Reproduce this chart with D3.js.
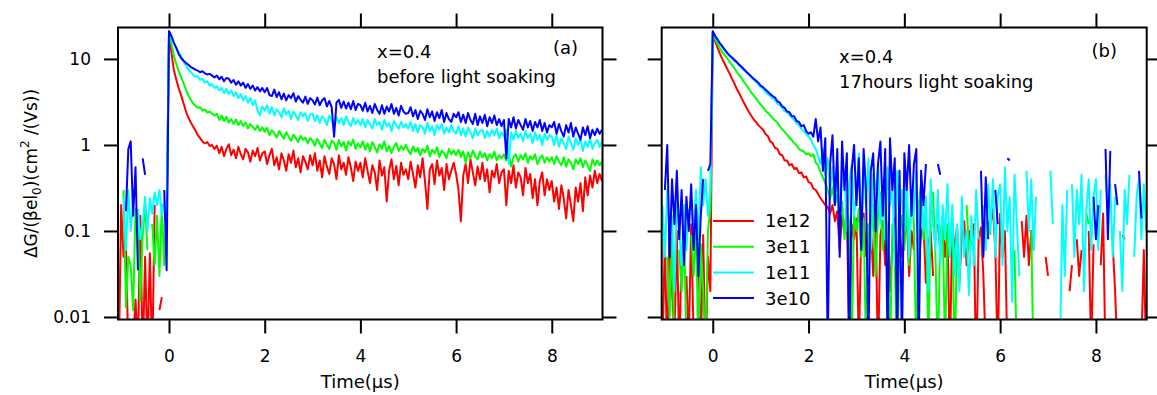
<!DOCTYPE html>
<html><head><meta charset="utf-8">
<script src="https://cdn.jsdelivr.net/npm/d3@7"></script>
<style>
body{margin:0;background:#fff}
svg{display:block}
text{font-family:"DejaVu Sans",sans-serif;fill:#000}
</style>
</head><body>
<svg id="chart" width="1157" height="395"></svg>
<script>
// ---------------- DATA ----------------
const time = [-1.05,-1,-0.95,-0.9,-0.85,-0.8,-0.75,-0.7,-0.65,-0.6,-0.55,-0.5,-0.45,-0.4,-0.35,-0.3,-0.25,-0.2,-0.15,-0.1,-0.05,
0,0.05,0.1,0.15,0.2,0.25,0.3,0.35,0.4,0.45,0.5,0.55,0.6,0.65,0.7,0.75,0.8,0.85,0.9,0.95,
1,1.05,1.1,1.15,1.2,1.25,1.3,1.35,1.4,1.45,1.5,1.55,1.6,1.65,1.7,1.75,1.8,1.85,1.9,1.95,
2,2.05,2.1,2.15,2.2,2.25,2.3,2.35,2.4,2.45,2.5,2.55,2.6,2.65,2.7,2.75,2.8,2.85,2.9,2.95,
3,3.05,3.1,3.15,3.2,3.25,3.3,3.35,3.4,3.45,3.5,3.55,3.6,3.65,3.7,3.75,3.8,3.85,3.9,3.95,
4,4.05,4.1,4.15,4.2,4.25,4.3,4.35,4.4,4.45,4.5,4.55,4.6,4.65,4.7,4.75,4.8,4.85,4.9,4.95,
5,5.05,5.1,5.15,5.2,5.25,5.3,5.35,5.4,5.45,5.5,5.55,5.6,5.65,5.7,5.75,5.8,5.85,5.9,5.95,
6,6.05,6.1,6.15,6.2,6.25,6.3,6.35,6.4,6.45,6.5,6.55,6.6,6.65,6.7,6.75,6.8,6.85,6.9,6.95,
7,7.05,7.1,7.15,7.2,7.25,7.3,7.35,7.4,7.45,7.5,7.55,7.6,7.65,7.7,7.75,7.8,7.85,7.9,7.95,
8,8.05,8.1,8.15,8.2,8.25,8.3,8.35,8.4,8.45,8.5,8.55,8.6,8.65,8.7,8.75,8.8,8.85,8.9,8.95,
9,9.05];

const seriesLabels = ["1e12","3e11","1e11","3e10"];
const xTickValues = [0,2,4,6,8];
const yTickValues = [0.01,0.1,1,10];
const yTickLabels = ["0.01","0.1","1","10"];

// (a) before light soaking
const a_1e12 = [0.003,0.2,0.05,0.07,0.004,0.008,0.005,0.016,0.004,0.15,0.003,0.05,0.004,0.055,0.003,0.2,null,0.012,0.017,null,0.1,
21,12,7.5,5.8,4.6,3.8,3.1,2.5,2.1,1.85,1.65,1.48,1.3,1.2,1.1,1.04,1.08,0.97,1.0,0.9,
0.98,0.8,0.95,0.74,0.9,1.02,0.76,0.88,0.7,0.95,0.78,0.68,0.9,0.82,0.64,0.86,0.74,0.92,0.66,0.8,
0.84,0.6,0.76,0.9,0.58,0.72,0.52,0.8,0.66,0.5,0.78,0.62,0.86,0.55,0.7,0.48,0.74,0.64,0.52,0.76,
0.58,0.8,0.5,0.66,0.42,0.74,0.56,0.46,0.7,0.6,0.4,0.76,0.52,0.62,0.45,0.72,0.55,0.38,0.64,0.5,
0.62,0.42,0.7,0.5,0.36,0.58,0.48,0.3,0.66,0.44,0.55,0.22,0.5,0.68,0.4,0.57,0.34,0.62,0.45,0.52,
0.4,0.64,0.46,0.32,0.58,0.42,0.7,0.38,0.18,0.52,0.6,0.35,0.66,0.44,0.54,0.3,0.6,0.4,0.5,0.62,
0.46,0.3,0.13,0.44,0.6,0.36,0.68,0.48,0.34,0.56,0.4,0.62,0.38,0.52,0.28,0.5,0.42,0.6,0.36,0.48,
0.52,0.2,0.5,0.36,0.58,0.32,0.48,0.42,0.26,0.54,0.36,0.46,0.24,0.4,0.2,0.38,0.48,0.26,0.4,0.3,
0.38,0.22,0.32,0.18,0.34,0.24,0.14,0.3,0.2,0.13,0.32,0.22,0.36,0.17,0.42,0.26,0.44,0.32,0.5,0.36,
0.46,0.38];
const a_3e11 = [null,null,0.3,0.013,0.05,0.04,0.012,0.18,0.11,0.015,0.09,0.2,0.06,null,0.12,0.04,0.15,0.03,0.2,0.04,0.18,
20,15,11,8.8,7.3,6.2,5.3,4.5,3.8,3.4,3.05,2.85,2.7,2.75,2.5,2.6,2.38,2.45,2.3,2.2,
2.3,1.95,2.2,1.9,2.12,1.82,2.0,1.75,1.98,1.7,1.9,1.66,1.82,1.55,1.75,1.62,1.5,1.68,1.45,1.6,
1.42,1.58,1.3,1.48,1.38,1.22,1.45,1.3,1.18,1.4,1.25,1.12,1.32,1.2,1.08,1.28,1.15,1.22,1.04,1.2,
1.12,0.98,1.18,1.04,0.92,1.15,1.0,0.9,1.12,1.06,0.88,1.14,0.96,1.08,0.86,1.1,0.98,1.16,0.9,1.04,
0.94,1.1,0.88,1.04,0.84,1.08,0.95,0.82,1.02,0.9,1.1,0.84,0.98,0.8,0.96,1.05,0.85,0.97,0.88,1.0,
0.86,0.78,0.96,0.84,0.92,0.76,0.9,0.82,0.98,0.74,0.88,0.8,0.94,0.72,0.86,0.8,0.7,0.9,0.78,0.86,
0.76,0.88,0.72,0.84,0.62,0.82,0.7,0.86,0.74,0.68,0.84,0.72,0.8,0.66,0.78,0.7,0.84,0.66,0.76,0.7,
0.78,0.66,0.8,0.56,0.72,0.78,0.64,0.76,0.68,0.8,0.62,0.74,0.68,0.78,0.6,0.7,0.76,0.62,0.72,0.64,
0.72,0.6,0.74,0.64,0.58,0.72,0.56,0.68,0.62,0.52,0.68,0.6,0.7,0.55,0.66,0.58,0.5,0.68,0.58,0.66,
0.58,0.64];
const a_1e11 = [null,null,0.25,0.06,0.3,0.1,0.22,null,0.18,0.08,0.12,0.25,0.1,0.24,0.16,0.28,0.2,0.3,0.15,0.22,0.12,
21,18,15.5,13.5,12,10.8,9.5,8.4,7.6,7.1,6.6,6.2,6.3,5.7,5.9,5.3,5.5,4.9,5.1,4.6,
4.8,4.3,4.6,4.0,4.5,3.9,4.3,3.7,4.1,3.5,3.9,3.3,3.7,3.1,3.5,2.9,3.3,2.5,2.2,2.8,
2.5,2.9,2.3,2.75,2.2,2.6,2.4,2.1,2.65,2.25,2.5,2.0,2.45,2.2,1.95,2.4,2.15,2.35,1.9,2.25,
2.3,1.9,2.2,1.8,2.15,2.0,1.7,2.2,1.95,1.55,2.1,1.8,2.05,1.7,2.15,1.85,1.65,2.05,1.75,1.95,
1.7,2.0,1.6,1.95,1.75,1.55,2.0,1.7,1.85,1.5,1.95,1.65,1.8,1.45,1.9,1.7,1.55,1.85,1.6,1.75,
1.55,1.85,1.45,1.75,1.4,1.7,1.6,1.35,1.8,1.45,1.65,1.3,1.7,1.5,1.75,1.35,1.6,1.4,1.7,1.45,
1.35,1.65,1.3,1.55,1.25,1.6,1.4,1.2,1.55,1.3,1.45,1.5,1.2,1.45,1.25,1.5,1.3,1.55,1.2,1.4,
1.25,1.5,0.6,1.4,1.15,1.45,1.2,1.35,1.1,1.45,1.2,1.35,1.05,1.4,1.15,1.3,1.0,1.35,1.15,1.3,
1.25,1.0,1.3,0.95,1.2,1.05,0.9,1.25,1.05,0.88,1.2,1.0,1.15,0.85,1.1,0.95,1.2,0.9,1.05,1.15,
0.95,1.1];
const a_3e10 = [null,null,null,0.17,0.9,1.1,0.15,0.55,0.035,null,0.7,0.45,null,null,null,null,null,null,null,0.3,0.035,
21,18.5,15.5,13.5,11.5,10.3,9.6,9.0,8.6,8.1,7.8,7.5,7.3,7.0,7.2,6.8,6.6,6.7,6.4,6.1,
6.4,5.8,6.2,5.5,6.0,5.9,5.3,5.7,5.0,5.5,4.9,5.3,4.6,5.1,4.5,4.9,4.3,4.7,4.2,4.6,
4.1,4.6,3.8,3.7,4.4,3.6,4.1,3.4,3.95,3.3,3.8,3.5,4.0,3.2,3.7,3.35,3.1,3.65,3.0,3.5,
3.3,2.95,3.55,2.9,3.3,3.5,2.8,3.25,2.75,1.25,3.1,3.35,2.7,3.2,2.65,3.1,2.6,3.25,2.55,3.0,
2.9,2.5,3.1,2.45,2.85,2.35,3.0,2.55,2.3,2.9,2.3,2.8,2.45,3.0,2.3,2.7,2.2,2.85,2.45,2.3,
2.35,2.75,2.15,2.55,2.0,2.5,2.3,1.95,2.6,2.1,2.45,1.9,2.4,2.05,2.55,1.85,2.35,2.0,1.85,2.3,
2.1,2.4,1.85,2.25,1.8,2.35,1.95,1.75,2.3,1.7,2.15,1.8,2.25,1.65,2.1,1.8,2.2,1.7,2.0,1.65,
1.95,0.7,2.0,1.6,2.1,1.55,1.95,1.7,1.5,2.0,1.6,1.9,1.45,1.85,1.6,1.95,1.45,1.8,1.4,1.7,
1.6,1.85,1.35,1.75,1.45,1.25,1.7,1.4,1.8,1.25,1.6,1.35,1.15,1.6,1.3,1.65,1.2,1.5,1.3,1.55,
1.35,1.5];

// (b) 17 hours light soaking
const b_1e12 = [0.004,0.08,0.003,0.15,0.02,0.006,0.1,0.004,0.05,null,0.03,0.005,0.12,0.006,null,0.06,0.004,0.09,0.003,0.05,0.02,
20,16,13.5,11.5,10,8.8,7.7,6.8,5.9,5.2,4.5,4.0,3.5,3.1,2.75,2.45,2.2,2.0,1.85,1.7,
1.6,1.5,1.34,1.27,1.1,1.05,0.92,0.9,0.78,0.76,0.66,0.66,0.58,0.6,0.53,0.54,0.47,0.48,0.42,0.43,
0.37,0.36,0.31,0.3,0.27,0.24,0.22,0.2,0.19,0.16,0.2,0.13,0.17,0.06,0.15,0.1,0.18,0.004,0.12,0.08,
0.14,0.004,0.1,0.16,0.05,null,0.12,0.03,0.15,0.003,0.09,0.13,0.04,0.11,0.02,0.07,0.14,0.03,0.1,0.05,
0.08,0.15,0.03,0.1,0.06,null,0.04,0.09,0.12,0.025,0.07,0.1,0.03,null,0.12,0.06,0.14,0.05,0.1,0.003,
0.12,0.06,0.11,0.025,0.09,0.13,0.04,0.1,0.07,0.12,0.002,0.08,0.11,0.03,0.004,null,0.12,0.18,0.06,0.003,
0.16,0.05,0.1,0.004,null,null,null,null,null,0.13,0.05,0.15,0.04,0.1,0.06,null,null,null,null,0.05,
0.03,null,null,null,null,null,null,null,null,0.02,0.04,null,0.08,0.03,0.06,null,null,0.1,0.004,0.07,
null,null,0.04,0.16,0.003,0.004,null,0.07,0.02,0.004,null,0.09,0.08,null,null,null,null,null,null,0.005,
0.06,0.003];
const b_3e11 = [null,null,0.05,0.01,0.08,0.004,null,0.06,0.02,0.1,0.005,null,0.09,0.03,0.12,0.004,0.07,0.02,0.004,0.1,0.18,
20,17,15,13.3,12,11,10.2,9.3,8.5,7.8,7.1,6.5,6.0,5.4,5.0,4.5,4.1,3.8,3.5,3.2,
2.95,2.75,2.5,2.35,2.2,2.05,1.92,1.82,1.65,1.52,1.42,1.32,1.22,1.14,1.04,0.99,0.9,0.86,0.84,0.78,
0.8,0.74,0.78,0.62,0.58,0.48,0.42,0.36,0.3,0.24,0.32,0.2,0.26,0.15,0.22,0.08,0.2,0.12,0.004,0.16,
0.1,0.18,0.05,0.14,0.004,0.12,0.08,0.2,0.03,0.15,0.28,0.06,0.2,0.1,0.003,0.12,0.05,0.002,0.09,0.15,
0.06,0.2,0.04,0.3,0.12,0.003,0.2,0.36,0.08,0.25,0.004,0.15,0.28,0.05,0.003,0.1,0.13,0.004,0.12,0.05,
0.15,0.002,0.1,0.03,null,null,0.2,0.06,null,null,null,null,null,null,null,0.13,0.09,null,null,null,
null,null,null,null,null,null,0.06,0.003,null,null,null,null,null,0.1,0.002,null,null,null,null,null,
null,null,null,null,null,null,null,null,null,null,null,null,null,null,null,null,0.16,0.12,null,null,
null,null,null,null,null,null,null,null,null,null,null,null,null,null,null,null,null,null,null,null,
null,null];
const b_1e11 = [0.2,0.05,0.3,0.08,0.15,0.02,0.25,0.1,0.04,0.2,0.06,0.18,null,0.12,0.3,0.07,0.55,0.2,0.4,0.15,0.3,
21,18.5,16.5,15,13.7,12.6,11.6,10.8,10.2,9.6,9.0,8.4,7.9,7.4,7.0,6.6,6.1,5.8,5.4,5.1,
4.7,4.5,4.1,3.9,3.7,3.45,3.35,3.0,2.9,2.7,2.45,2.45,2.2,2.1,1.95,1.78,1.7,1.52,1.45,1.32,
1.25,1.15,1.0,0.9,0.75,0.6,0.9,0.45,0.7,0.3,0.55,0.2,0.65,0.12,0.4,0.5,0.1,0.35,0.6,0.15,
0.25,0.8,0.1,0.5,0.2,0.7,0.06,0.45,0.3,0.6,0.12,0.4,0.08,0.55,0.2,0.35,0.04,0.5,0.15,0.3,
0.1,0.45,0.05,0.3,0.15,0.5,0.03,0.35,0.1,0.25,0.02,0.4,0.12,0.06,0.3,0.04,0.2,0.08,0.35,0.05,
0.2,0.03,0.12,0.02,0.25,0.05,0.1,0.018,0.15,0.04,0.3,0.08,null,0.2,0.06,0.35,0.1,0.4,0.05,0.25,
0.35,0.04,0.55,0.1,0.25,0.015,0.45,0.12,0.03,null,null,0.5,0.1,0.4,0.06,0.25,null,null,null,null,
null,0.5,0.12,null,null,0.004,0.2,0.03,0.3,null,0.35,0.05,0.3,0.12,0.45,0.02,0.18,0.4,0.06,0.25,
0.4,0.06,0.3,null,0.45,0.15,0.35,0.05,0.25,null,0.1,0.02,0.3,0.12,0.45,null,0.05,0.25,0.4,0.08,
0.35,0.1];
const b_3e10 = [null,0.3,1.0,0.05,0.4,0.12,0.5,0.08,0.3,0.04,0.25,0.1,0.35,0.06,0.2,0.03,0.15,0.4,null,0.5,0.6,
21,18.5,16.8,15.2,14,12.8,11.8,11,10.4,9.8,9.2,8.6,8.1,7.6,7.1,6.7,6.3,5.9,5.6,5.3,
4.9,4.7,4.4,4.15,3.9,3.7,3.55,3.2,3.1,2.8,2.7,2.45,2.4,2.15,2.15,1.9,1.85,1.65,1.7,1.45,
1.35,1.4,1.25,2.0,1.1,1.6,0.5,1.2,0.004,0.6,1.3,0.2,0.9,0.05,1.1,0.3,0.8,0.003,0.5,1.0,
0.2,0.7,0.06,0.9,0.3,0.004,0.5,0.8,0.1,0.6,1.1,0.15,0.9,0.004,1.2,0.3,0.7,0.005,0.5,0.004,
0.8,0.3,1.0,0.15,0.6,0.9,0.004,0.5,0.2,0.6,null,null,null,null,0.6,0.45,null,null,null,null,
null,null,null,null,null,null,null,null,null,null,null,null,0.5,0.05,0.42,0.08,null,null,0.3,0.12,
null,null,null,0.7,0.66,null,null,null,null,null,null,null,null,null,null,null,null,null,null,null,
null,null,null,null,null,null,null,null,null,null,null,null,null,null,null,null,null,null,null,0.25,
0.08,0.2,null,null,0.9,0.08,0.85,null,0.35,0.2,null,null,null,null,null,null,null,null,0.5,0.14,
null,null];

// ---------------- STYLE / LAYOUT ----------------
const colors = ["#ff0000","#00ff00","#00ffff","#0000ff"];
const W = 1157, H = 395;
const yTop = 27.5, yBot = 319.5;
const xDomain = [-1.066, 9.06];
const yDomain = [0.00935, 23.2];

const svg = d3.select("#chart");
svg.append("rect").attr("width",W).attr("height",H).attr("fill","#fff");

const panels = [
  {id:"a", x0:118, x1:602.5, series:[a_1e12,a_3e11,a_1e11,a_3e10], yLabels:true,
   notes:[["x=0.4",377,58],["before light soaking",377,83]], tag:["(a)",578,54], legend:false},
  {id:"b", x0:661.7, x1:1146.7, series:[b_1e12,b_3e11,b_1e11,b_3e10], yLabels:false,
   notes:[["x=0.4",839,63],["17hours light soaking",839,88]], tag:["(b)",1117,57], legend:true}
];

function styleAxis(g){
  g.attr("font-family",null).attr("font-size",null);
  g.select(".domain").remove();
  g.selectAll(".tick line").attr("stroke","#000").attr("stroke-width",2);
  g.selectAll(".tick text").attr("fill","#000").style("font-family",'"DejaVu Sans",sans-serif').style("font-size","17px");
}

panels.forEach(p => {
  const x = d3.scaleLinear().domain(xDomain).range([p.x0, p.x1]);
  const y = d3.scaleLog().domain(yDomain).range([yBot, yTop]);
  const g = svg.append("g");

  const clipId = "clip-" + p.id;
  svg.append("clipPath").attr("id", clipId).append("rect")
    .attr("x", p.x0).attr("y", yTop).attr("width", p.x1 - p.x0).attr("height", yBot - yTop);

  const line = d3.line()
    .defined(d => d[1] !== null && d[1] > 0)
    .x(d => x(d[0])).y(d => y(d[1]));
  const plot = g.append("g").attr("clip-path", `url(#${clipId})`);
  p.series.forEach((vals, i) => {
    const n = Math.min(vals.length, time.length);
    const pts = [];
    for (let k = 0; k < n; k++) pts.push([time[k], vals[k]]);
    plot.append("path").datum(pts)
      .attr("fill","none").attr("stroke", colors[i]).attr("stroke-width", 2)
      .attr("stroke-linejoin","round").attr("d", line);
  });

  g.append("g").attr("transform",`translate(0,${yBot})`)
    .call(d3.axisBottom(x).tickValues(xTickValues).tickSize(14).tickPadding(16).tickFormat(d3.format("d")))
    .call(styleAxis);
  g.append("g").attr("transform",`translate(0,${yTop})`)
    .call(d3.axisTop(x).tickValues(xTickValues).tickSize(14).tickFormat(""))
    .call(styleAxis);
  g.append("g").attr("transform",`translate(${p.x0},0)`)
    .call(d3.axisLeft(y).tickValues(yTickValues).tickSize(14).tickPadding(13)
      .tickFormat((d,i) => p.yLabels ? yTickLabels[i] : ""))
    .call(styleAxis);
  g.append("g").attr("transform",`translate(${p.x1},0)`)
    .call(d3.axisRight(y).tickValues(yTickValues).tickSize(14).tickFormat(""))
    .call(styleAxis);

  g.append("rect").attr("x",p.x0).attr("y",yTop).attr("width",p.x1-p.x0).attr("height",yBot-yTop)
    .attr("fill","none").attr("stroke","#000").attr("stroke-width",2);

  g.append("text").attr("x",(p.x0+p.x1)/2).attr("y",388).attr("text-anchor","middle")
    .style("font-size","18px").text("Time(µs)");

  p.notes.forEach(([t,tx,ty]) => g.append("text").attr("x",tx).attr("y",ty).style("font-size","18px").text(t));
  g.append("text").attr("x",p.tag[1]).attr("y",p.tag[2]).attr("text-anchor","end").style("font-size","18px").text(p.tag[0]);

  if (p.legend) {
    const lg = g.append("g");
    seriesLabels.forEach((lab, i) => {
      const ly = 221 + i * 25.7;
      lg.append("line").attr("x1",713).attr("x2",754).attr("y1",ly).attr("y2",ly)
        .attr("stroke",colors[i]).attr("stroke-width",2);
      lg.append("text").attr("x",765).attr("y",ly).attr("dy","0.36em").style("font-size","18px").text(lab);
    });
  }
});

const yt = svg.append("text").attr("transform","translate(37,173.5) rotate(-90)")
  .attr("text-anchor","middle").style("font-size","17px");
yt.append("tspan").text("ΔG/(βel");
yt.append("tspan").attr("dy",4).style("font-size","12px").text("0");
yt.append("tspan").attr("dy",-4).text(")(cm");
yt.append("tspan").attr("dy",-8).style("font-size","12px").text("2");
yt.append("tspan").attr("dy",8).text(" /(Vs))");
</script>
</body></html>
